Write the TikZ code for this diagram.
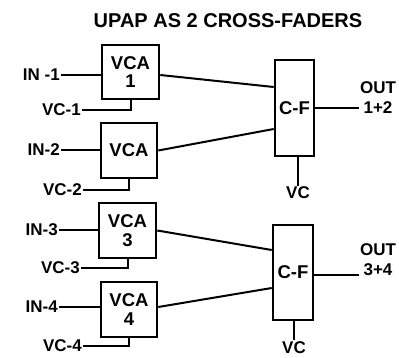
\documentclass[tikz,border=0pt]{standalone}
\usepackage{fontspec}
\setmainfont{Liberation Sans}
\begin{document}
\begin{tikzpicture}[x=1pt,y=-1pt,
  box/.style={draw,line width=2.6pt,inner sep=0pt,font=\bfseries\fontsize{18.5}{18.5}\selectfont,align=center},
  lbl/.style={inner sep=1pt,font=\bfseries\fontsize{17}{20}\selectfont},
  wire/.style={line width=2pt}]
\useasboundingbox (0,0) rectangle (399,358);
\node[font=\bfseries\fontsize{20}{24}\selectfont] (title) at (228,21) {UPAP AS 2 CROSS-FADERS};
% VCA boxes
\node[box,minimum width=57pt,minimum height=54pt] (vca1) at (130.5,72) {VCA\\1};
\node[box,minimum width=56pt,minimum height=55pt] (vca2) at (129,150.5) {VCA};
\node[box,minimum width=57pt,minimum height=55pt] (vca3) at (127.5,230.5) {VCA\\3};
\node[box,minimum width=56pt,minimum height=55pt] (vca4) at (129,309.5) {VCA\\4};
% cross-faders
\node[box,minimum width=39pt,minimum height=96pt] (cf1) at (294.5,108) {C-F};
\node[box,minimum width=40pt,minimum height=95pt] (cf2) at (293,272.5) {C-F};
% input labels
\node[lbl,anchor=east] (in1) at (61,75) {IN -1};
\node[lbl,anchor=east] (vc1) at (82,110) {VC-1};
\node[lbl,anchor=east] (in2) at (61,150) {IN-2};
\node[lbl,anchor=east] (vc2) at (83,190) {VC-2};
\node[lbl,anchor=east] (in3) at (59,230) {IN-3};
\node[lbl,anchor=east] (vc3) at (81,268) {VC-3};
\node[lbl,anchor=east] (in4) at (59,307) {IN-4};
\node[lbl,anchor=east] (vc4) at (83,346) {VC-4};
% output labels
\node[lbl,align=center] (out1) at (378,98) {OUT\\1+2};
\node[lbl,align=center] (out2) at (378,260) {OUT\\3+4};
\node[lbl] (cv1) at (298,193) {VC};
\node[lbl,anchor=north] (cv2) at (294,340) {VC};
% wires
\draw[wire] (in1.east) -- (in1.east -| vca1.west);
\draw[wire] (in2.east) -- (in2.east -| vca2.west);
\draw[wire] (in3.east) -- (in3.east -| vca3.west);
\draw[wire] (in4.east) -- (in4.east -| vca4.west);
\draw[wire] (vc1.east) -| (vca1.south);
\draw[wire] (vc2.east) -| (vca2.south);
\draw[wire] (vc3.east) -| (vca3.south);
\draw[wire] (vc4.east) -| (vca4.south);
\draw[wire] ([yshift=-3pt]vca1.east) -- ([yshift=21pt]cf1.west);
\draw[wire] (vca2.east) -- ([yshift=-21pt]cf1.west);
\draw[wire] (vca3.east) -- ([yshift=22.5pt]cf2.west);
\draw[wire] ([yshift=2.5pt]vca4.east) -- ([yshift=-15.5pt]cf2.west);
\draw[wire] (cf1.east) -- (cf1.east -| out1.west);
\draw[wire] ([yshift=-2pt]cf2.east) -- ([yshift=-2pt]cf2.east -| out2.west);
\draw[wire] (cv1.north |- cf1.south) -- (cv1.north);
\draw[wire] (cv2.north |- cf2.south) -- (cv2.north);
\end{tikzpicture}
\end{document}
